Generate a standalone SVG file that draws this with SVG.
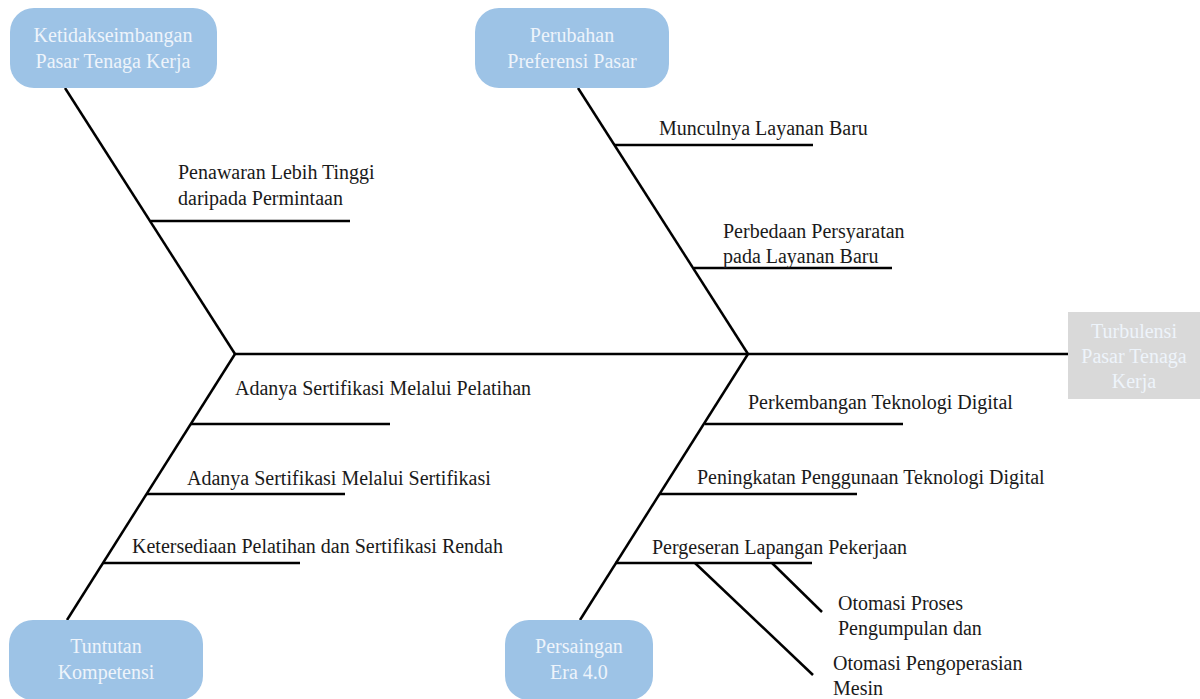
<svg xmlns="http://www.w3.org/2000/svg" width="1200" height="699" viewBox="0 0 1200 699">
<style>
.bone{stroke:#000;stroke-width:2.5;fill:none;stroke-linecap:butt}
.lbl{font-family:"Liberation Serif","DejaVu Serif",serif;font-size:20px;fill:#1a1a1a}
.cat{fill:#9dc3e6}
.ctxt{font-family:"Liberation Serif","DejaVu Serif",serif;font-size:20px;fill:#eef4fb;text-anchor:middle}
.head{fill:#d9d9d9}
</style>
<rect width="1200" height="699" fill="#fff"/>
<g id="connectors">
<line class="bone" x1="235" y1="354" x2="1068" y2="354"/>
<line class="bone" x1="65" y1="88" x2="235" y2="354"/>
<line class="bone" x1="578" y1="88" x2="748" y2="354"/>
<line class="bone" x1="235" y1="354" x2="67" y2="620"/>
<line class="bone" x1="748" y1="354" x2="580" y2="620"/>
<line class="bone" x1="151" y1="221" x2="350" y2="221"/>
<line class="bone" x1="614" y1="145" x2="813" y2="145"/>
<line class="bone" x1="694" y1="268" x2="892" y2="268"/>
<line class="bone" x1="191" y1="424" x2="390" y2="424"/>
<line class="bone" x1="147" y1="494" x2="345" y2="494"/>
<line class="bone" x1="103" y1="563" x2="300" y2="563"/>
<line class="bone" x1="705" y1="424" x2="903" y2="424"/>
<line class="bone" x1="660" y1="494" x2="857" y2="494"/>
<line class="bone" x1="615" y1="563" x2="812" y2="563"/>
<line class="bone" x1="695" y1="563" x2="813" y2="675"/>
<line class="bone" x1="772" y1="563" x2="822" y2="612"/>
</g>
<g id="head">
<rect class="head" x="1068" y="312" width="132" height="87"/>
<text class="ctxt" x="1134" y="338">Turbulensi</text>
<text class="ctxt" x="1134" y="363">Pasar Tenaga</text>
<text class="ctxt" x="1134" y="388">Kerja</text>
</g>
<g id="cat1">
<rect class="cat" x="10" y="8" width="207" height="80" rx="24"/>
<text class="ctxt" x="113" y="42">Ketidakseimbangan</text>
<text class="ctxt" x="113" y="68">Pasar Tenaga Kerja</text>
</g>
<g id="cat2">
<rect class="cat" x="475" y="8" width="194" height="80" rx="24"/>
<text class="ctxt" x="572" y="42">Perubahan</text>
<text class="ctxt" x="572" y="68">Preferensi Pasar</text>
</g>
<g id="cat3">
<rect class="cat" x="9" y="620" width="194" height="80" rx="24"/>
<text class="ctxt" x="106" y="653">Tuntutan</text>
<text class="ctxt" x="106" y="679">Kompetensi</text>
</g>
<g id="cat4">
<rect class="cat" x="505" y="620" width="148" height="80" rx="24"/>
<text class="ctxt" x="579" y="653">Persaingan</text>
<text class="ctxt" x="579" y="679">Era 4.0</text>
</g>
<g id="causes">
<text class="lbl" x="178" y="179">Penawaran Lebih Tinggi</text>
<text class="lbl" x="178" y="205">daripada Permintaan</text>
<text class="lbl" x="659" y="135">Munculnya Layanan Baru</text>
<text class="lbl" x="723" y="238">Perbedaan Persyaratan</text>
<text class="lbl" x="723" y="263">pada Layanan Baru</text>
<text class="lbl" x="235" y="395">Adanya Sertifikasi Melalui Pelatihan</text>
<text class="lbl" x="187" y="485">Adanya Sertifikasi Melalui Sertifikasi</text>
<text class="lbl" x="132" y="553">Ketersediaan Pelatihan dan Sertifikasi Rendah</text>
<text class="lbl" x="748" y="409">Perkembangan Teknologi Digital</text>
<text class="lbl" x="697" y="484">Peningkatan Penggunaan Teknologi Digital</text>
<text class="lbl" x="652" y="554">Pergeseran Lapangan Pekerjaan</text>
<text class="lbl" x="838" y="610">Otomasi Proses</text>
<text class="lbl" x="838" y="635">Pengumpulan dan</text>
<text class="lbl" x="833" y="670">Otomasi Pengoperasian</text>
<text class="lbl" x="833" y="695">Mesin</text>
</g>
</svg>
